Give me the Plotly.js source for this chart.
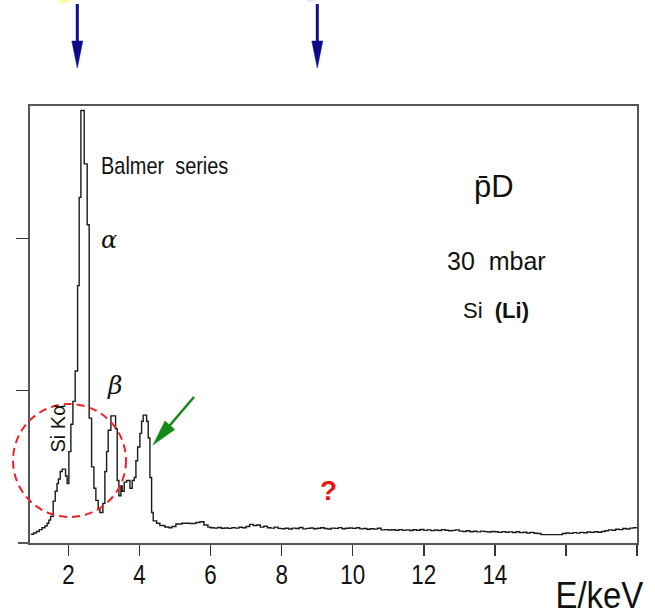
<!DOCTYPE html>
<html>
<head>
<meta charset="utf-8">
<script src="https://cdn.plot.ly/plotly-3.0.1.min.js"></script>
<style>
  html, body { margin: 0; padding: 0; background: #ffffff; }
  #chart { width: 655px; height: 616px; }
</style>
</head>
<body>
<div id="chart"></div>
<script>
// X-ray spectrum of antiprotonic deuterium (pD), 30 mbar, Si(Li) detector.
// Step histogram: each energy is the start of a bin, counts hold until the next one.
const energyKeV = [
  0.945, 1.02, 1.10, 1.18, 1.26, 1.34, 1.40, 1.45, 1.50, 1.572, 1.63, 1.68, 1.72, 1.77,
  1.826, 1.921, 1.966, 2.014, 2.070, 2.127, 2.191, 2.259, 2.304, 2.352, 2.445, 2.529,
  2.585, 2.653, 2.718, 2.774, 2.839, 2.887, 2.971, 3.027, 3.075, 3.120, 3.196, 3.328,
  3.373, 3.421, 3.478, 3.514, 3.571, 3.638, 3.731, 3.796, 3.852, 3.900, 3.948, 4.012,
  4.060, 4.105, 4.201, 4.246, 4.294, 4.342, 4.387, 4.482, 4.575, 4.716, 4.83, 4.913,
  5.026, 5.194, 5.42, 5.589, 5.70, 5.814, 5.926,
  6.0, 6.1, 6.2, 6.3, 6.4, 6.5, 6.6, 6.7, 6.8, 6.9,
  7.0, 7.1, 7.2, 7.3, 7.4, 7.5, 7.6, 7.7, 7.8, 7.9,
  8.0, 8.1, 8.2, 8.3, 8.4, 8.5, 8.6, 8.7, 8.8, 8.9,
  9.0, 9.1, 9.2, 9.3, 9.4, 9.5, 9.6, 9.7, 9.8, 9.9,
  10.0, 10.1, 10.2, 10.3, 10.4, 10.5, 10.6, 10.7, 10.8, 10.9,
  11.0, 11.1, 11.2, 11.3, 11.4, 11.5, 11.6, 11.7, 11.8, 11.9,
  12.0, 12.1, 12.2, 12.3, 12.4, 12.5, 12.6, 12.7, 12.8, 12.9,
  13.0, 13.1, 13.2, 13.3, 13.4, 13.5, 13.6, 13.7, 13.8, 13.9,
  14.0, 14.1, 14.2, 14.3, 14.4, 14.5, 14.6, 14.7, 14.8, 14.9,
  15.0, 15.1, 15.2, 15.3, 15.9,
  16.0, 16.1, 16.2, 16.3, 16.4, 16.5, 16.6, 16.7, 16.8, 16.9,
  17.0, 17.1, 17.2, 17.3, 17.4, 17.5, 17.6, 17.7, 17.8, 17.9, 18.0
];
const counts = [
  57, 66, 76, 88, 100, 112, 130, 150, 175, 275, 340, 390, 420, 470,
  485, 440, 390, 600, 780, 930, 1130, 1690, 2270, 2840, 2490, 2090,
  820, 500, 360, 280, 220, 200, 260, 470, 600, 740, 835, 750,
  410, 310, 375, 340, 400, 410, 360, 410, 430, 540, 630, 720,
  800, 840, 800, 690, 430, 200, 145, 130, 115, 105, 100, 108,
  125, 130, 128, 135, 140, 118, 104,
  100, 98, 102, 97, 99, 96, 101, 98, 103, 100,
  108, 122, 115, 118, 104, 110, 100, 98, 104, 96,
  94, 97, 92, 98, 95, 102, 93, 96, 99, 94,
  97, 100, 95, 92, 98, 96, 101, 94, 97, 99,
  96, 100, 93, 95, 90, 94, 91, 97, 86, 88,
  85, 87, 84, 88, 83, 86, 82, 87, 84, 89,
  83, 86, 81, 85, 82, 88, 84, 80, 83, 86,
  78, 76, 80, 74, 77, 73, 78, 75, 72, 76,
  74, 70, 75, 71, 73, 69, 74, 68, 71, 66,
  70, 64, 62, 55, 62,
  66, 63, 68, 65, 70, 67, 72, 70, 74, 71,
  76, 80, 86, 84, 90, 88, 95, 92, 98, 100, 100
];

const xTickVals = [2, 4, 6, 8, 10, 12, 14, 16, 18];
const xTickText = ['2', '4', '6', '8', '10', '12', '14', '', ''];
const yTickVals = [1000, 2000];

const SANS = '"Liberation Sans", Arial, sans-serif';

// Figure geometry (pixels) used to place the decorations in paper units.
const W = 655, H = 616, ML = 30, MR = 18, MT = 106, MB = 73;
const PW = W - ML - MR, PH = H - MT - MB;
const px = x => (x - ML) / PW;
const py = y => (H - MB - y) / PH;

// Arrow with a slender filled head, drawn as a shaft line plus a triangle.
function arrowShapes(tail, tip, headLen, headHalf, width, color) {
  const dx = tip[0] - tail[0], dy = tip[1] - tail[1];
  const len = Math.hypot(dx, dy);
  const ux = dx / len, uy = dy / len;
  const nx = -uy, ny = ux;
  const bx = tip[0] - ux * headLen, by = tip[1] - uy * headLen;
  const p1 = [bx + nx * headHalf, by + ny * headHalf];
  const p2 = [bx - nx * headHalf, by - ny * headHalf];
  return [
    { type: 'line', xref: 'paper', yref: 'paper',
      x0: px(tail[0]), y0: py(tail[1]), x1: px(bx + ux * 3), y1: py(by + uy * 3),
      line: { color: color, width: width } },
    { type: 'path', xref: 'paper', yref: 'paper',
      path: `M${px(tip[0])},${py(tip[1])} L${px(p1[0])},${py(p1[1])} L${px(p2[0])},${py(p2[1])} Z`,
      fillcolor: color, line: { color: color, width: 0.5 } }
  ];
}

const shapes = [
  // bottom axis line runs a little past the frame on the left
  { type: 'line', xref: 'paper', yref: 'paper', x0: px(18), x1: 0, y0: 0, y1: 0,
    line: { color: '#555555', width: 2 } },
  // dashed circle around the Si K-alpha line
  { type: 'circle', xref: 'paper', yref: 'paper',
    x0: px(13), x1: px(126), y0: py(517), y1: py(404),
    line: { color: '#ee2222', width: 2, dash: '8px,5px' } },
  // pale fragments at the top edge
  { type: 'path', xref: 'paper', yref: 'paper',
    path: `M${px(56)},${py(0)} L${px(72)},${py(0)} L${px(61)},${py(4.5)} Z`,
    fillcolor: '#fbfbb0', line: { width: 0 } },
  { type: 'path', xref: 'paper', yref: 'paper',
    path: `M${px(306)},${py(0)} L${px(318)},${py(0)} L${px(309)},${py(2.5)} Z`,
    fillcolor: '#e6e6fa', line: { width: 0 } },
  ...arrowShapes([77.3, 4], [77.3, 68], 27, 5.5, 3, '#0c0c8a'),
  ...arrowShapes([317.3, 4], [317.3, 68], 27, 5.5, 3, '#0c0c8a'),
  ...arrowShapes([194, 397], [153, 445], 26, 6.5, 2.5, '#138a13')
];

const annotations = [
  { text: 'Balmer  series', x: px(164), y: py(165),
    font: { family: SANS, size: 24, color: '#111' } },
  { text: '<i>α</i>', x: px(109), y: py(240), font: { family: '"DejaVu Serif", serif', size: 24, color: '#111' } },
  { text: '<i>β</i>', x: px(114), y: py(385), font: { family: '"DejaVu Serif", serif', size: 25, color: '#111' } },
  { text: 'Si Kα', x: px(57.5), y: py(429), textangle: -90,
    font: { family: SANS, size: 20, color: '#111' } },
  { text: 'p\u0304D', x: px(494), y: py(186),
    font: { family: SANS, size: 31, color: '#111' } },
  { text: '30  mbar', x: px(497), y: py(261),
    font: { family: SANS, size: 25, color: '#111' } },
  { text: 'Si  <b>(Li)</b>', x: px(496), y: py(310),
    font: { family: SANS, size: 22, color: '#111' } },
  { text: '<b>?</b>', x: px(328), y: py(490),
    font: { family: SANS, size: 28, color: '#ee1111' } },
  { text: 'E/keV', x: px(599), y: py(595),
    font: { family: SANS, size: 37, color: '#111' } }
].map(a => Object.assign({ xref: 'paper', yref: 'paper', showarrow: false,
                           xanchor: 'center', yanchor: 'middle' }, a));

// Horizontal squeeze for texts set in a narrow face.
const condense = { 'Balmer  series': 0.83, 'E/keV': 0.89 };
const tickCondense = 0.8;

const trace = {
  type: 'scatter', mode: 'lines',
  x: energyKeV, y: counts,
  line: { shape: 'hv', color: '#1a1a1a', width: 1.4 },
  hoverinfo: 'x+y'
};

const layout = {
  width: W, height: H,
  margin: { l: ML, r: MR, t: MT, b: MB },
  paper_bgcolor: '#ffffff', plot_bgcolor: '#ffffff',
  showlegend: false,
  xaxis: {
    range: [0.92, 18], tickvals: xTickVals, ticktext: xTickText,
    ticks: 'outside', ticklen: 11, tickwidth: 1.5, tickcolor: '#333',
    ticklabelstandoff: -6,
    showline: true, mirror: true, linecolor: '#555555', linewidth: 2,
    showgrid: false, zeroline: false,
    tickfont: { family: SANS, size: 28, color: '#111' }
  },
  yaxis: {
    range: [0, 2870], tickvals: yTickVals, showticklabels: false,
    ticks: 'outside', ticklen: 12, tickwidth: 1.5, tickcolor: '#333',
    showline: true, mirror: true, linecolor: '#555555', linewidth: 2,
    showgrid: false, zeroline: false
  },
  shapes: shapes,
  annotations: annotations
};

function squeeze(el, s) {
  const bb = el.getBBox();
  const cx = bb.x + bb.width / 2;
  const prev = el.getAttribute('transform') || '';
  el.setAttribute('transform', `${prev} translate(${cx},0) scale(${s},1) translate(${-cx},0)`.trim());
}

Plotly.newPlot('chart', [trace], layout, { staticPlot: true, displayModeBar: false }).then(gd => {
  gd.querySelectorAll('.xtick text').forEach(t => squeeze(t, tickCondense));
  gd.querySelectorAll('text.annotation-text').forEach(t => {
    const s = condense[t.textContent];
    if (s) squeeze(t, s);
  });
});
</script>
</body>
</html>
